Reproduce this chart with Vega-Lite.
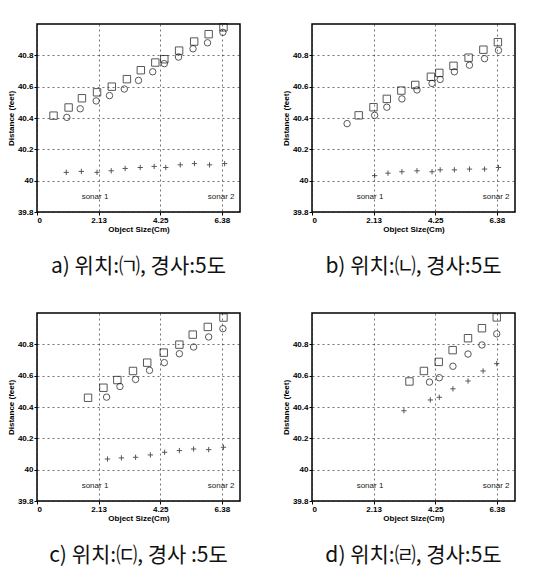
{
  "$schema": "https://vega.github.io/schema/vega-lite/v6.json",
  "background": "white",
  "padding": {"left": 6, "top": 20, "right": 5, "bottom": 5},
  "datasets": {
    "pts": [
      {"panel":"a","series":"square","x":0.57,"y":40.415},
      {"panel":"a","series":"square","x":1.09,"y":40.467},
      {"panel":"a","series":"square","x":1.55,"y":40.526},
      {"panel":"a","series":"square","x":2.07,"y":40.564},
      {"panel":"a","series":"square","x":2.58,"y":40.60},
      {"panel":"a","series":"square","x":3.10,"y":40.648},
      {"panel":"a","series":"square","x":3.58,"y":40.705},
      {"panel":"a","series":"square","x":4.08,"y":40.754},
      {"panel":"a","series":"square","x":4.39,"y":40.775},
      {"panel":"a","series":"square","x":4.90,"y":40.83},
      {"panel":"a","series":"square","x":5.42,"y":40.888},
      {"panel":"a","series":"square","x":5.92,"y":40.935},
      {"panel":"a","series":"square","x":6.43,"y":40.979},
      {"panel":"a","series":"circle","x":1.03,"y":40.404},
      {"panel":"a","series":"circle","x":1.49,"y":40.459},
      {"panel":"a","series":"circle","x":2.04,"y":40.509},
      {"panel":"a","series":"circle","x":2.50,"y":40.543},
      {"panel":"a","series":"circle","x":3.01,"y":40.585},
      {"panel":"a","series":"circle","x":3.50,"y":40.64},
      {"panel":"a","series":"circle","x":3.99,"y":40.695},
      {"panel":"a","series":"circle","x":4.39,"y":40.747},
      {"panel":"a","series":"circle","x":4.88,"y":40.789},
      {"panel":"a","series":"circle","x":5.38,"y":40.842},
      {"panel":"a","series":"circle","x":5.88,"y":40.88},
      {"panel":"a","series":"circle","x":6.41,"y":40.947},
      {"panel":"a","series":"plus","x":1.01,"y":40.053},
      {"panel":"a","series":"plus","x":1.53,"y":40.059},
      {"panel":"a","series":"plus","x":2.07,"y":40.053},
      {"panel":"a","series":"plus","x":2.56,"y":40.063},
      {"panel":"a","series":"plus","x":3.04,"y":40.078},
      {"panel":"a","series":"plus","x":3.56,"y":40.084},
      {"panel":"a","series":"plus","x":4.04,"y":40.091},
      {"panel":"a","series":"plus","x":4.44,"y":40.084},
      {"panel":"a","series":"plus","x":4.94,"y":40.101},
      {"panel":"a","series":"plus","x":5.43,"y":40.109},
      {"panel":"a","series":"plus","x":5.95,"y":40.101},
      {"panel":"a","series":"plus","x":6.47,"y":40.109},

      {"panel":"b","series":"square","x":1.61,"y":40.417},
      {"panel":"b","series":"square","x":2.12,"y":40.469},
      {"panel":"b","series":"square","x":2.58,"y":40.522},
      {"panel":"b","series":"square","x":3.08,"y":40.575},
      {"panel":"b","series":"square","x":3.56,"y":40.611},
      {"panel":"b","series":"square","x":4.10,"y":40.663},
      {"panel":"b","series":"square","x":4.39,"y":40.688},
      {"panel":"b","series":"square","x":4.88,"y":40.733},
      {"panel":"b","series":"square","x":5.40,"y":40.785},
      {"panel":"b","series":"square","x":5.91,"y":40.836},
      {"panel":"b","series":"square","x":6.41,"y":40.884},
      {"panel":"b","series":"circle","x":1.21,"y":40.364},
      {"panel":"b","series":"circle","x":2.16,"y":40.417},
      {"panel":"b","series":"circle","x":2.58,"y":40.469},
      {"panel":"b","series":"circle","x":3.10,"y":40.522},
      {"panel":"b","series":"circle","x":3.62,"y":40.579},
      {"panel":"b","series":"circle","x":4.14,"y":40.621},
      {"panel":"b","series":"circle","x":4.42,"y":40.646},
      {"panel":"b","series":"circle","x":4.91,"y":40.695},
      {"panel":"b","series":"circle","x":5.43,"y":40.737},
      {"panel":"b","series":"circle","x":5.95,"y":40.779},
      {"panel":"b","series":"circle","x":6.43,"y":40.832},
      {"panel":"b","series":"plus","x":2.16,"y":40.032},
      {"panel":"b","series":"plus","x":2.62,"y":40.048},
      {"panel":"b","series":"plus","x":3.10,"y":40.057},
      {"panel":"b","series":"plus","x":3.62,"y":40.063},
      {"panel":"b","series":"plus","x":4.14,"y":40.057},
      {"panel":"b","series":"plus","x":4.42,"y":40.069},
      {"panel":"b","series":"plus","x":4.91,"y":40.069},
      {"panel":"b","series":"plus","x":5.43,"y":40.074},
      {"panel":"b","series":"plus","x":5.95,"y":40.074},
      {"panel":"b","series":"plus","x":6.43,"y":40.084},

      {"panel":"c","series":"square","x":1.76,"y":40.459},
      {"panel":"c","series":"square","x":2.29,"y":40.523},
      {"panel":"c","series":"square","x":2.77,"y":40.572},
      {"panel":"c","series":"square","x":3.31,"y":40.63},
      {"panel":"c","series":"square","x":3.80,"y":40.683},
      {"panel":"c","series":"square","x":4.37,"y":40.747},
      {"panel":"c","series":"square","x":4.91,"y":40.798},
      {"panel":"c","series":"square","x":5.37,"y":40.862},
      {"panel":"c","series":"square","x":5.89,"y":40.911},
      {"panel":"c","series":"square","x":6.43,"y":40.971},
      {"panel":"c","series":"circle","x":2.40,"y":40.463},
      {"panel":"c","series":"circle","x":2.86,"y":40.531},
      {"panel":"c","series":"circle","x":3.40,"y":40.576},
      {"panel":"c","series":"circle","x":3.88,"y":40.634},
      {"panel":"c","series":"circle","x":4.39,"y":40.683},
      {"panel":"c","series":"circle","x":4.91,"y":40.740},
      {"panel":"c","series":"circle","x":5.40,"y":40.783},
      {"panel":"c","series":"circle","x":5.92,"y":40.847},
      {"panel":"c","series":"circle","x":6.41,"y":40.90},
      {"panel":"c","series":"plus","x":2.43,"y":40.068},
      {"panel":"c","series":"plus","x":2.91,"y":40.075},
      {"panel":"c","series":"plus","x":3.40,"y":40.079},
      {"panel":"c","series":"plus","x":3.91,"y":40.094},
      {"panel":"c","series":"plus","x":4.40,"y":40.111},
      {"panel":"c","series":"plus","x":4.91,"y":40.122},
      {"panel":"c","series":"plus","x":5.40,"y":40.132},
      {"panel":"c","series":"plus","x":5.92,"y":40.128},
      {"panel":"c","series":"plus","x":6.43,"y":40.143},

      {"panel":"d","series":"square","x":3.36,"y":40.563},
      {"panel":"d","series":"square","x":3.86,"y":40.630},
      {"panel":"d","series":"square","x":4.37,"y":40.688},
      {"panel":"d","series":"square","x":4.85,"y":40.763},
      {"panel":"d","series":"square","x":5.38,"y":40.839},
      {"panel":"d","series":"square","x":5.86,"y":40.903},
      {"panel":"d","series":"square","x":6.37,"y":40.972},
      {"panel":"d","series":"circle","x":4.05,"y":40.559},
      {"panel":"d","series":"circle","x":4.39,"y":40.587},
      {"panel":"d","series":"circle","x":4.86,"y":40.660},
      {"panel":"d","series":"circle","x":5.38,"y":40.738},
      {"panel":"d","series":"circle","x":5.86,"y":40.796},
      {"panel":"d","series":"circle","x":6.37,"y":40.867},
      {"panel":"d","series":"plus","x":3.17,"y":40.376},
      {"panel":"d","series":"plus","x":4.08,"y":40.445},
      {"panel":"d","series":"plus","x":4.39,"y":40.462},
      {"panel":"d","series":"plus","x":4.86,"y":40.516},
      {"panel":"d","series":"plus","x":5.38,"y":40.566},
      {"panel":"d","series":"plus","x":5.90,"y":40.630},
      {"panel":"d","series":"plus","x":6.37,"y":40.677}
    ],
    "s1": [{"t":"sonar 1"}],
    "s2": [{"t":"sonar 2"}]
  },
  "config": {
    "view": {"stroke": "black", "strokeWidth": 1.5, "fill": "white"},
    "axis": {
      "grid": true, "gridColor": "#222", "gridDash": [2, 3], "gridOpacity": 0.8, "gridWidth": 0.8,
      "domain": false, "ticks": true, "tickColor": "black", "tickSize": 3, "tickCount": 12,
      "labelOverlap": false,
      "labelFont": "Liberation Sans", "labelFontSize": 8, "labelFontWeight": "bold", "labelColor": "black",
      "titleFont": "Liberation Sans", "titleFontSize": 8, "titleFontWeight": "bold", "titleColor": "black"
    },
    "title": {"font": "Noto Sans CJK KR", "fontSize": 21, "fontWeight": "normal", "color": "#111"}
  },
  "spacing": 32,
  "vconcat": [
    {"spacing": 40, "hconcat": [
      {"width": 203, "height": 188, "title": {"text": "a) 위치:㈀, 경사:5도", "orient": "bottom", "offset": 23},
       "layer": [
        {"data": {"name": "pts"}, "transform": [{"filter": "datum.panel == 'a'"}],
         "mark": {"type": "point", "filled": false, "strokeWidth": 1, "color": "#111"},
         "encoding": {
           "x": {"field": "x", "type": "quantitative", "scale": {"domain": [0, 7], "nice": false}, "axis": {"values": [0, 2.125, 4.25, 6.375], "labelExpr": "datum.value == 0 ? '0' : format(datum.value, '.2f')", "title": "Object Size(Cm)", "titlePadding": 1, "labelPadding": 1}},
           "y": {"field": "y", "type": "quantitative", "scale": {"domain": [39.8, 41.0], "nice": false, "zero": false}, "axis": {"values": [39.8, 40, 40.2, 40.4, 40.6, 40.8], "format": ".1~f", "title": "Distance (feet)", "titlePadding": 2, "labelPadding": 1}},
           "shape": {"field": "series", "type": "nominal", "scale": {"domain": ["square", "circle", "plus"], "range": ["square", "circle", "M-1,0L1,0M0,-1L0,1"]}, "legend": null},
           "size": {"field": "series", "type": "nominal", "scale": {"domain": ["square", "circle", "plus"], "range": [55, 28, 18]}, "legend": null}
         }},
        {"data": {"name": "s1"}, "mark": {"type": "text", "font": "Liberation Sans", "fontSize": 8, "color": "#222"}, "encoding": {"x": {"datum": 2.0}, "y": {"datum": 39.895}, "text": {"field": "t"}}},
        {"data": {"name": "s2"}, "mark": {"type": "text", "font": "Liberation Sans", "fontSize": 8, "color": "#222"}, "encoding": {"x": {"datum": 6.35}, "y": {"datum": 39.895}, "text": {"field": "t"}}}
      ]},
      {"width": 203, "height": 188, "title": {"text": "b) 위치:㈁, 경사:5도", "orient": "bottom", "offset": 23},
       "layer": [
        {"data": {"name": "pts"}, "transform": [{"filter": "datum.panel == 'b'"}],
         "mark": {"type": "point", "filled": false, "strokeWidth": 1, "color": "#111"},
         "encoding": {
           "x": {"field": "x", "type": "quantitative", "scale": {"domain": [0, 7], "nice": false}, "axis": {"values": [0, 2.125, 4.25, 6.375], "labelExpr": "datum.value == 0 ? '0' : format(datum.value, '.2f')", "title": "Object Size(Cm)", "titlePadding": 1, "labelPadding": 1}},
           "y": {"field": "y", "type": "quantitative", "scale": {"domain": [39.8, 41.0], "nice": false, "zero": false}, "axis": {"values": [39.8, 40, 40.2, 40.4, 40.6, 40.8], "format": ".1~f", "title": "Distance (feet)", "titlePadding": 2, "labelPadding": 1}},
           "shape": {"field": "series", "type": "nominal", "scale": {"domain": ["square", "circle", "plus"], "range": ["square", "circle", "M-1,0L1,0M0,-1L0,1"]}, "legend": null},
           "size": {"field": "series", "type": "nominal", "scale": {"domain": ["square", "circle", "plus"], "range": [55, 28, 18]}, "legend": null}
         }},
        {"data": {"name": "s1"}, "mark": {"type": "text", "font": "Liberation Sans", "fontSize": 8, "color": "#222"}, "encoding": {"x": {"datum": 2.0}, "y": {"datum": 39.895}, "text": {"field": "t"}}},
        {"data": {"name": "s2"}, "mark": {"type": "text", "font": "Liberation Sans", "fontSize": 8, "color": "#222"}, "encoding": {"x": {"datum": 6.35}, "y": {"datum": 39.895}, "text": {"field": "t"}}}
      ]}
    ]},
    {"spacing": 40, "hconcat": [
      {"width": 203, "height": 188, "title": {"text": "c) 위치:㈂, 경사 :5도", "orient": "bottom", "offset": 23},
       "layer": [
        {"data": {"name": "pts"}, "transform": [{"filter": "datum.panel == 'c'"}],
         "mark": {"type": "point", "filled": false, "strokeWidth": 1, "color": "#111"},
         "encoding": {
           "x": {"field": "x", "type": "quantitative", "scale": {"domain": [0, 7], "nice": false}, "axis": {"values": [0, 2.125, 4.25, 6.375], "labelExpr": "datum.value == 0 ? '0' : format(datum.value, '.2f')", "title": "Object Size(Cm)", "titlePadding": 1, "labelPadding": 1}},
           "y": {"field": "y", "type": "quantitative", "scale": {"domain": [39.8, 41.0], "nice": false, "zero": false}, "axis": {"values": [39.8, 40, 40.2, 40.4, 40.6, 40.8], "format": ".1~f", "title": "Distance (feet)", "titlePadding": 2, "labelPadding": 1}},
           "shape": {"field": "series", "type": "nominal", "scale": {"domain": ["square", "circle", "plus"], "range": ["square", "circle", "M-1,0L1,0M0,-1L0,1"]}, "legend": null},
           "size": {"field": "series", "type": "nominal", "scale": {"domain": ["square", "circle", "plus"], "range": [55, 28, 18]}, "legend": null}
         }},
        {"data": {"name": "s1"}, "mark": {"type": "text", "font": "Liberation Sans", "fontSize": 8, "color": "#222"}, "encoding": {"x": {"datum": 2.0}, "y": {"datum": 39.895}, "text": {"field": "t"}}},
        {"data": {"name": "s2"}, "mark": {"type": "text", "font": "Liberation Sans", "fontSize": 8, "color": "#222"}, "encoding": {"x": {"datum": 6.35}, "y": {"datum": 39.895}, "text": {"field": "t"}}}
      ]},
      {"width": 203, "height": 188, "title": {"text": "d) 위치:㈃, 경사:5도", "orient": "bottom", "offset": 23},
       "layer": [
        {"data": {"name": "pts"}, "transform": [{"filter": "datum.panel == 'd'"}],
         "mark": {"type": "point", "filled": false, "strokeWidth": 1, "color": "#111"},
         "encoding": {
           "x": {"field": "x", "type": "quantitative", "scale": {"domain": [0, 7], "nice": false}, "axis": {"values": [0, 2.125, 4.25, 6.375], "labelExpr": "datum.value == 0 ? '0' : format(datum.value, '.2f')", "title": "Object Size(Cm)", "titlePadding": 1, "labelPadding": 1}},
           "y": {"field": "y", "type": "quantitative", "scale": {"domain": [39.8, 41.0], "nice": false, "zero": false}, "axis": {"values": [39.8, 40, 40.2, 40.4, 40.6, 40.8], "format": ".1~f", "title": "Distance (feet)", "titlePadding": 2, "labelPadding": 1}},
           "shape": {"field": "series", "type": "nominal", "scale": {"domain": ["square", "circle", "plus"], "range": ["square", "circle", "M-1,0L1,0M0,-1L0,1"]}, "legend": null},
           "size": {"field": "series", "type": "nominal", "scale": {"domain": ["square", "circle", "plus"], "range": [55, 28, 18]}, "legend": null}
         }},
        {"data": {"name": "s1"}, "mark": {"type": "text", "font": "Liberation Sans", "fontSize": 8, "color": "#222"}, "encoding": {"x": {"datum": 2.0}, "y": {"datum": 39.895}, "text": {"field": "t"}}},
        {"data": {"name": "s2"}, "mark": {"type": "text", "font": "Liberation Sans", "fontSize": 8, "color": "#222"}, "encoding": {"x": {"datum": 6.35}, "y": {"datum": 39.895}, "text": {"field": "t"}}}
      ]}
    ]}
  ]
}
